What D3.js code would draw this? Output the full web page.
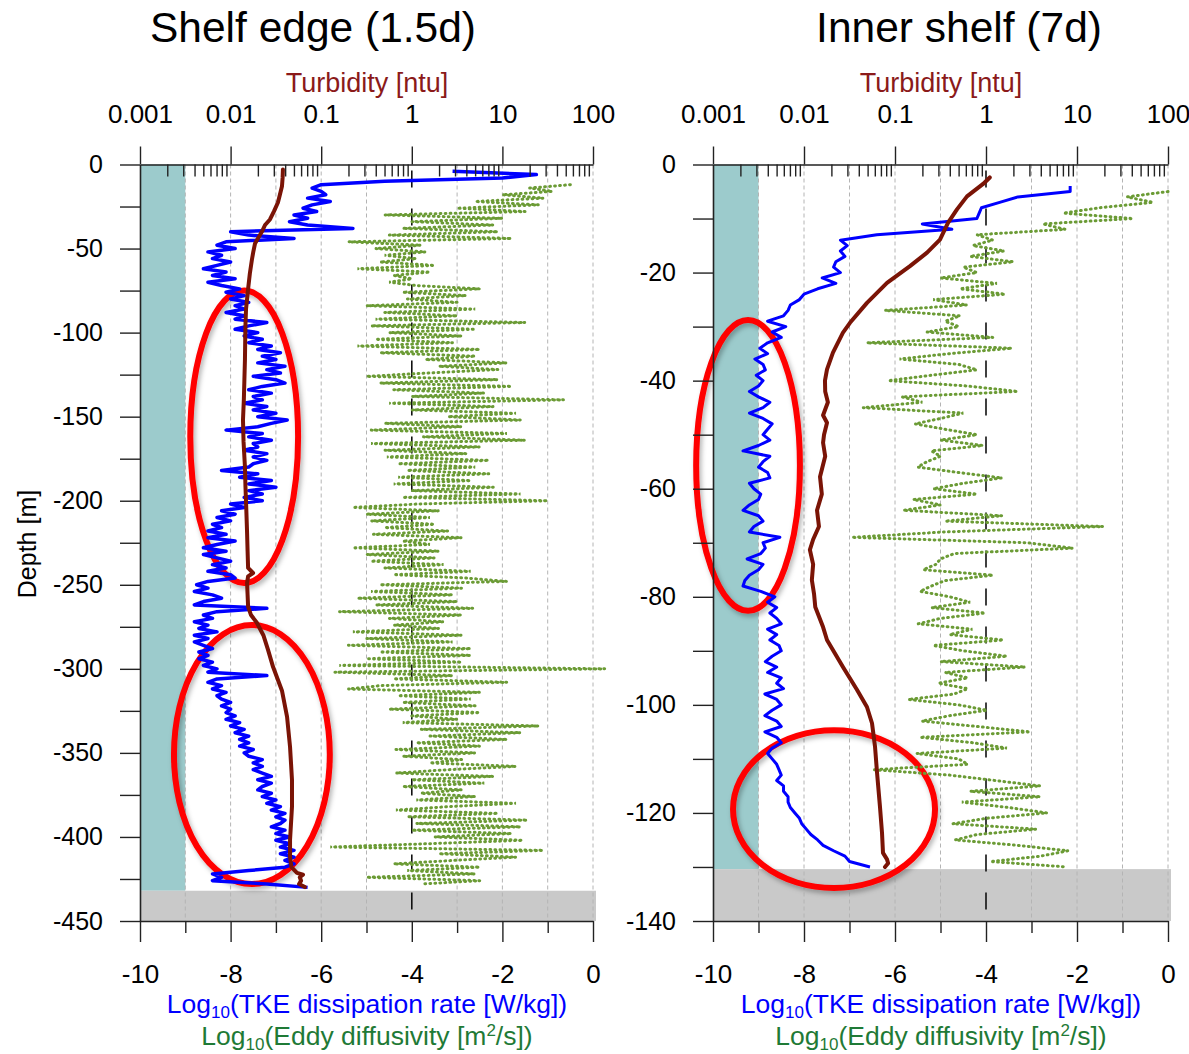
<!DOCTYPE html>
<html>
<head>
<meta charset="utf-8">
<script src="https://cdn.jsdelivr.net/npm/d3@7"></script>
<style>
  body { margin: 0; background: #fff; }
  svg { display: block; }
  text { font-family: "Liberation Sans", Arial, Helvetica, sans-serif; }
</style>
</head>
<body>
<svg id="chart" width="1189" height="1054"></svg>
<script>
// ---------------------------------------------------------------------------
// Profile data. Depths in metres (positive down), TKE dissipation and eddy
// diffusivity as log10 values, turbidity in ntu.
// ---------------------------------------------------------------------------

// Shelf edge (1.5 d) — log10 TKE dissipation rate, 2 m bins starting at 4 m
const shelfEdgeTkeTop = 4, shelfEdgeTkeStep = 2;
const shelfEdgeTke = [
  -3.1,-1.25,-2.0,-4.6,-6.0,-6.2,-6.0,-5.9,-6.3,-5.8,
  -6.2,-6.4,-6.1,-6.6,-6.3,-6.7,-6.3,-5.3,-8.0,-7.6,
  -6.6,-8.1,-8.3,-7.9,-8.5,-8.2,-8.4,-8.0,-8.3,-8.6,
  -8.1,-8.4,-7.9,-8.5,-8.2,-7.8,-8.1,-7.7,-8.0,-7.6,
  -7.9,-7.7,-8.1,-7.7,-7.9,-7.2,-7.6,-7.9,-7.4,-7.7,
  -7.3,-7.6,-7.1,-7.4,-6.9,-7.3,-7.0,-7.4,-6.8,-7.2,
  -6.9,-7.5,-7.0,-6.8,-7.3,-7.6,-7.1,-7.5,-7.3,-7.7,
  -7.2,-7.5,-7.0,-7.4,-6.75,-7.1,-7.4,-8.1,-7.3,-7.6,
  -7.1,-7.5,-7.4,-7.7,-7.2,-7.5,-7.2,-7.5,-7.6,-8.2,
  -7.4,-7.8,-7.1,-7.6,-7.0,-7.6,-7.3,-7.7,-7.3,-8.0,
  -7.7,-8.2,-7.9,-8.3,-8.0,-8.4,-8.2,-8.5,-8.1,-8.5,
  -7.9,-8.3,-8.6,-8.1,-8.6,-8.3,-8.0,-8.4,-8.1,-8.5,
  -8.0,-7.9,-8.5,-8.75,-8.5,-8.8,-8.4,-8.2,-8.6,-8.8,
  -7.2,-8.3,-8.6,-8.4,-8.8,-8.5,-8.7,-8.3,-8.8,-8.5,
  -8.8,-8.6,-8.4,-8.7,-8.5,-8.7,-8.4,-8.6,-8.3,-8.5,
  -7.2,-8.3,-8.5,-8.2,-8.4,-8.1,-8.3,-8.2,-8.0,-8.2,
  -8.0,-8.1,-7.9,-8.1,-7.8,-8.0,-7.7,-7.9,-7.6,-7.8,
  -7.6,-7.8,-7.5,-7.7,-7.6,-7.3,-7.5,-7.3,-7.5,-7.3,
  -7.1,-7.4,-7.1,-7.3,-7.4,-7.1,-7.3,-7.0,-7.2,-6.9,
  -7.1,-6.8,-7.0,-6.8,-6.9,-7.1,-6.8,-7.0,-6.7,-7.0,
  -6.7,-6.9,-6.6,-6.9,-6.6,-6.8,-6.6,-6.8,-7.6,-8.4,
  -8.2,-8.4,-7.2,-6.3
];

// Shelf edge — log10 eddy diffusivity, 2 m bins starting at 12 m
const shelfEdgeKzTop = 12, shelfEdgeKzStep = 2;
const shelfEdgeKz = [
  -0.5,-1.4,-0.9,-2.0,-1.1,-2.6,-1.2,-3.0,-1.5,-4.6,
  -2.0,-4.0,-2.2,-4.2,-2.1,-4.5,-1.8,-5.4,-3.8,-4.8,
  -3.7,-4.6,-3.9,-4.7,-3.5,-5.2,-3.6,-4.4,-4.0,-4.5,
  -3.9,-2.5,-4.2,-2.8,-4.1,-3.0,-5.0,-2.6,-4.6,-3.0,
  -4.8,-1.5,-4.9,-2.6,-4.5,-2.9,-4.8,-3.1,-5.2,-2.5,
  -4.7,-2.6,-3.7,-1.9,-3.4,-2.1,-3.6,-5.0,-2.1,-4.7,
  -1.8,-4.4,-2.4,-4.0,-0.65,-4.5,-2.2,-4.0,-1.7,-3.2,
  -1.6,-4.6,-2.9,-4.9,-1.9,-3.75,-1.5,-4.9,-2.5,-4.6,
  -2.8,-4.55,-2.3,-4.3,-2.6,-4.1,-2.3,-4.3,-2.7,-4.4,
  -2.2,-4.0,-1.6,-4.2,-1.0,-3.9,-5.3,-3.4,-5.0,-3.6,
  -4.9,-3.5,-4.6,-3.2,-4.85,-2.9,-4.2,-3.6,-5.3,-3.4,
  -5.0,-3.5,-4.9,-3.3,-4.6,-2.7,-4.4,-2.8,-1.9,-4.7,
  -2.9,-4.9,-3.1,-5.2,-3.0,-4.8,-2.65,-5.6,-2.9,-4.5,
  -3.3,-4.4,-3.4,-5.3,-2.9,-5.0,-3.1,-5.4,-2.7,-4.7,
  -2.7,-5.0,-2.9,-5.6,0.26,-5.7,-3.1,-4.4,-1.9,-4.7,
  -5.4,-2.5,-4.3,-2.7,-4.2,-2.6,-4.5,-2.5,-4.0,-3.0,
  -4.2,-1.2,-3.8,-1.6,-3.6,-1.9,-3.9,-2.5,-4.35,-2.6,
  -4.2,-2.9,-3.6,-1.7,-3.2,-4.35,-2.2,-4.0,-2.4,-4.2,
  -2.9,-3.8,-2.6,-3.9,-1.7,-3.2,-4.35,-2.1,-4.1,-1.45,
  -3.9,-1.6,-4.0,-1.8,-3.5,-1.55,-3.6,-5.8,-1.1,-3.4,
  -1.7,-3.1,-4.4,-2.5,-4.1,-2.6,-5.0,-2.5,-3.8
];

// Shelf edge — turbidity profile
const shelfEdgeTurbDepth = [
  3,8,13,18,22.6,28,32.7,36,39.9,44,
  47,52,56.5,65,74,80,86,95,104,116,
  128,140,152,165,180,192,205,219,230,240,
  243,245,249,256,263,268,272.6,280,288.7,298.8,
  313,328.6,346.4,366,382,401.8,411.9,418,421.4,422.5,
  424,426,428,429.8
];
const shelfEdgeTurbidity = [
  0.0378,0.0375,0.0369,0.035,0.0333,0.030,0.0272,0.024,0.0222,0.020,
  0.0186,0.0178,0.0172,0.0163,0.0156,0.0152,0.0148,0.0146,0.0145,0.0144,
  0.0142,0.014,0.0137,0.0139,0.0144,0.0146,0.0149,0.0152,0.0154,0.0156,
  0.0177,0.0156,0.0152,0.0154,0.0156,0.0168,0.0195,0.023,0.0259,0.0294,
  0.0369,0.042,0.0453,0.0476,0.0476,0.0453,0.0453,0.047,0.054,0.063,
  0.058,0.06,0.057,0.066
];

// Inner shelf (7 d) — log10 TKE dissipation rate, 1 m bins starting at 4 m
const innerShelfTkeTop = 4, innerShelfTkeStep = 1;
const innerShelfTke = [
  -2.15,-2.15,-3.3,-3.7,-4.1,-4.15,-4.2,-5.4,-4.75,-6.4,
  -7.2,-7.05,-7.2,-7.1,-7.3,-7.35,-7.2,-7.6,-7.3,-7.7,
  -8.0,-8.1,-8.3,-8.35,-8.45,-8.8,-8.4,-8.7,-8.5,-8.8,
  -8.97,-8.8,-9.08,-8.9,-8.85,-9.05,-8.9,-9.0,-9.2,-9.0,
  -8.75,-8.9,-9.2,-8.9,-8.7,-8.8,-8.9,-8.75,-9.0,-9.34,
  -8.75,-8.9,-9.0,-8.8,-8.75,-9.2,-9.1,-8.95,-9.0,-9.2,
  -9.34,-9.0,-8.9,-9.1,-9.2,-8.53,-8.9,-8.85,-8.95,-9.25,
  -8.9,-9.0,-9.2,-9.3,-9.34,-8.95,-8.64,-8.8,-8.6,-8.75,
  -8.6,-8.5,-8.8,-8.6,-8.75,-8.55,-8.5,-8.7,-8.85,-8.6,
  -8.8,-8.5,-8.6,-8.45,-8.86,-8.6,-8.5,-8.7,-8.86,-8.6,
  -8.5,-8.86,-8.6,-8.5,-8.7,-8.8,-8.7,-8.6,-8.55,-8.5,
  -8.6,-8.45,-8.45,-8.35,-8.35,-8.3,-8.2,-8.1,-8.05,-7.95,
  -7.85,-7.7,-7.58,-7.35,-7.1,-7.0,-6.55
];

// Inner shelf — log10 eddy diffusivity, 1 m bins starting at 5 m
const innerShelfKzTop = 5, innerShelfKzStep = 1;
const innerShelfKz = [
  0.0,-0.9,-0.33,-1.5,-2.3,-0.77,-2.75,-2.26,-4.2,-3.85,
  -4.29,-3.6,-4.35,-3.4,-4.5,-4.2,-5.0,-3.76,-4.57,-3.58,
  -5.16,-4.42,-6.22,-4.57,-4.9,-4.6,-5.3,-3.85,-6.62,-3.43,
  -4.8,-5.9,-4.6,-4.2,-5.2,-6.15,-4.4,-3.3,-5.85,-5.4,
  -6.7,-4.5,-5.0,-5.56,-4.9,-4.2,-5.0,-4.07,-5.2,-5.0,
  -5.3,-5.5,-4.6,-3.65,-4.5,-5.16,-4.2,-5.6,-5.0,-5.82,
  -3.65,-4.9,-1.43,-4.9,-6.95,-3.1,-2.09,-4.7,-5.0,-5.1,
  -5.38,-3.85,-4.9,-5.2,-5.45,-4.8,-4.35,-5.2,-4.02,-5.0,
  -5.49,-4.3,-4.8,-3.62,-5.16,-4.5,-3.54,-5.0,-3.14,-4.9,
  -4.4,-5.05,-4.4,-4.7,-5.71,-4.6,-3.98,-4.8,-5.41,-4.2,
  -3.03,-5.45,-4.3,-3.54,-5.52,-4.6,-4.4,-6.48,-4.8,-3.8,
  -2.81,-4.35,-2.81,-4.53,-3.5,-2.66,-4.0,-4.73,-2.9,-4.2,
  -4.68,-3.3,-2.2,-2.8,-3.9,-2.22
];

// Inner shelf — turbidity profile
const innerShelfTurbDepth = [
  2.4,3.6,5.9,8.3,10.8,13.9,16.3,18.8,21.9,25.6,
  29.3,31.1,34.8,37.9,40,42,44,46.4,47.8,50,
  51.5,54,57.8,61,64,67,69.4,71.3,74,76.9,
  79.5,81.9,85.6,88,91.1,93,97.2,100.4,103.4,107.7,
  112.6,118.9,123.7,127.4,128.6,129.3,130
];
const innerShelfTurbidity = [
  1.1,0.93,0.618,0.48,0.382,0.312,0.225,0.146,0.0817,0.0492,
  0.032,0.0268,0.0208,0.0179,0.017,0.0171,0.0183,0.0162,0.0179,0.0166,
  0.0162,0.0171,0.015,0.0157,0.0139,0.0146,0.0126,0.0116,0.0126,0.0122,
  0.0129,0.0133,0.0162,0.0179,0.023,0.0268,0.0382,0.0492,0.0559,0.0603,
  0.0635,0.0684,0.072,0.0738,0.0817,0.084,0.0776
];

// Seafloor depth and depth-axis extent of each station
const shelfEdgeSeafloor = 432, shelfEdgeMaxDepth = 450;
const innerShelfSeafloor = 130.4, innerShelfMaxDepth = 140;

// Highlighted regions: centre (log10 unit, depth m) and half-widths
const shelfEdgeHighlights = [[-7.70, 162, 1.19, 87], [-7.53, 351, 1.72, 77]];
const innerShelfHighlights = [[-9.23, 55.7, 1.14, 26.9], [-7.34, 119.3, 2.22, 14.6]];

// Axis tick labels
const turbidityTicks = [0.001, 0.01, 0.1, 1, 10, 100];
const turbidityTickLabels = ["0.001", "0.01", "0.1", "1", "10", "100"];
const logTicks = [-10, -8, -6, -4, -2, 0];
const logTickLabels = ["-10", "-8", "-6", "-4", "-2", "0"];

// ---------------------------------------------------------------------------
const svg = d3.select("#chart");
const FONT = '"Liberation Sans", Arial, Helvetica, sans-serif';
const BLUE = "#0000ff", GREEN = "#6b9b35", TURB = "#7a1406";
const TURB_LABEL = "#8b1a1a", GREEN_LABEL = "#1f7a36";

const defs = svg.append("defs");
const shadow = defs.append("filter").attr("id", "ringShadow")
  .attr("x", "-20%").attr("y", "-20%").attr("width", "140%").attr("height", "140%");
shadow.append("feDropShadow").attr("dx", 2).attr("dy", 3)
  .attr("stdDeviation", 2.5).attr("flood-color", "#000").attr("flood-opacity", 0.3);

const TOP = 164.5, BOTTOM = 921;

function binned(top, step, values) {
  return values.map((v, i) => ({ depth: top + i * step, v }));
}

function drawPanel(p) {
  const g = svg.append("g");
  const x = d3.scaleLinear().domain([-10, 0]).range([p.left, p.right]);
  const xT = d3.scaleLog().domain([0.001, 100]).range([p.left, p.right]);
  const y = d3.scaleLinear().domain([0, -p.maxDepth]).range([TOP, BOTTOM]);

  // strip below the instrument noise floor, and the seabed
  g.append("rect")
    .attr("x", x(-10)).attr("y", y(0))
    .attr("width", x(-9) - x(-10)).attr("height", y(-p.seafloor) - y(0))
    .attr("fill", "#9ccbcc");
  g.append("rect")
    .attr("x", x(-10)).attr("y", y(-p.seafloor))
    .attr("width", x(0) - x(-10) + 3).attr("height", y(-p.maxDepth) - y(-p.seafloor))
    .attr("fill", "#c9c9c9");

  // vertical grid
  d3.range(-9, 1).forEach(u => {
    const ref = u === -4;
    g.append("line")
      .attr("x1", x(u)).attr("x2", x(u)).attr("y1", TOP).attr("y2", BOTTOM)
      .attr("stroke", ref ? "#111" : "#b4b4b4")
      .attr("stroke-width", ref ? 1.6 : 1)
      .attr("stroke-dasharray", ref ? "17,21" : "4,3")
      .attr("stroke-dashoffset", ref ? 32 : 0);
  });

  // highlight rings
  g.selectAll(".ring").data(p.highlights).enter().append("ellipse")
    .attr("cx", d => x(d[0]))
    .attr("cy", d => y(-d[1]))
    .attr("rx", d => x(d[0] + d[2]) - x(d[0]))
    .attr("ry", d => y(-(d[1] + d[3])) - y(-d[1]))
    .attr("fill", "none").attr("stroke", "#ff0000").attr("stroke-width", 6)
    .attr("filter", "url(#ringShadow)");

  // eddy diffusivity (dotted)
  const kz = binned(p.kzTop, p.kzStep, p.kz);
  g.append("path").datum(kz)
    .attr("d", d3.line().x(d => x(d.v)).y(d => y(-d.depth)))
    .attr("fill", "none").attr("stroke", GREEN).attr("stroke-width", 3)
    .attr("stroke-linecap", "round").attr("stroke-dasharray", "0.8,4.2");

  // TKE dissipation
  const tke = binned(p.tkeTop, p.tkeStep, p.tke);
  g.append("path").datum(tke)
    .attr("d", d3.line().x(d => x(d.v)).y(d => y(-d.depth)))
    .attr("fill", "none").attr("stroke", BLUE).attr("stroke-width", p.tkeWidth)
    .attr("stroke-linejoin", "round");

  // turbidity
  const turb = p.turbDepth.map((d, i) => ({ depth: d, v: p.turb[i] }));
  g.append("path").datum(turb)
    .attr("d", d3.line().x(d => xT(d.v)).y(d => y(-d.depth)))
    .attr("fill", "none").attr("stroke", TURB).attr("stroke-width", 4)
    .attr("stroke-linejoin", "round").attr("stroke-linecap", "round");

  // depth axis
  const yTicks = d3.range(0, -p.maxDepth - 0.001, -p.depthMinor);
  const yAxis = g.append("g").attr("transform", `translate(${p.left},0)`)
    .call(d3.axisLeft(y).tickValues(yTicks).tickSize(20).tickSizeOuter(0).tickPadding(17)
      .tickFormat(d => (Math.abs(d % p.depthMajor) < 1e-9 ? String(d) : "")));
  styleAxis(yAxis, 25);

  // turbidity axis (top): decades labelled, minor ticks drawn inward
  const topAxis = g.append("g").attr("transform", `translate(0,${TOP})`)
    .call(d3.axisTop(xT).tickValues(turbidityTicks).tickSize(18).tickSizeOuter(0).tickPadding(24)
      .tickFormat((d, i) => turbidityTickLabels[i]));
  styleAxis(topAxis, 26);
  const minor = [];
  turbidityTicks.slice(0, -1).forEach(dec => { for (let k = 2; k <= 9; k++) minor.push(dec * k); });
  const topMinor = g.append("g").attr("transform", `translate(0,${TOP})`)
    .call(d3.axisTop(xT).tickValues(minor).tickSize(-12).tickSizeOuter(0).tickFormat(""));
  styleAxis(topMinor, 26);
  topMinor.select(".domain").remove();

  // log10 axis (bottom)
  const botAxis = g.append("g").attr("transform", `translate(0,${BOTTOM})`)
    .call(d3.axisBottom(x).tickValues(logTicks).tickSize(21).tickSizeOuter(0).tickPadding(23)
      .tickFormat((d, i) => logTickLabels[i]));
  styleAxis(botAxis, 26);
  const botMinor = g.append("g").attr("transform", `translate(0,${BOTTOM})`)
    .call(d3.axisBottom(x).tickValues(d3.range(-9, 0, 2)).tickSize(12).tickSizeOuter(0).tickFormat(""));
  styleAxis(botMinor, 26);
  botMinor.select(".domain").remove();

  // titles
  g.append("text").attr("x", p.titleX).attr("y", 42).attr("text-anchor", "middle")
    .attr("font-size", 42.5).attr("fill", "#000").text(p.title);
  g.append("text").attr("x", p.labelX).attr("y", 92).attr("text-anchor", "middle")
    .attr("font-size", 27).attr("fill", TURB_LABEL).text("Turbidity [ntu]");

  const t1 = g.append("text").attr("x", p.labelX).attr("y", 1013).attr("text-anchor", "middle")
    .attr("font-size", 26.5).attr("fill", BLUE);
  t1.append("tspan").text("Log");
  t1.append("tspan").attr("font-size", 17).attr("dy", 5).text("10");
  t1.append("tspan").attr("dy", -5).text("(TKE dissipation rate [W/kg])");

  const t2 = g.append("text").attr("x", p.labelX).attr("y", 1045).attr("text-anchor", "middle")
    .attr("font-size", 26.5).attr("fill", GREEN_LABEL);
  t2.append("tspan").text("Log");
  t2.append("tspan").attr("font-size", 17).attr("dy", 5).text("10");
  t2.append("tspan").attr("dy", -5).text("(Eddy diffusivity [m");
  t2.append("tspan").attr("font-size", 17).attr("dy", -9).text("2");
  t2.append("tspan").attr("dy", 9).text("/s])");
}

function styleAxis(a, size) {
  a.attr("font-family", FONT).attr("font-size", size);
  a.selectAll("text").attr("fill", "#000");
  a.selectAll("line").attr("stroke", "#222").attr("stroke-width", 1.4);
  a.select(".domain").attr("stroke", "#222").attr("stroke-width", 1.6);
}

drawPanel({
  title: "Shelf edge (1.5d)", titleX: 313, labelX: 367,
  left: 140, right: 593, maxDepth: shelfEdgeMaxDepth, seafloor: shelfEdgeSeafloor,
  depthMajor: 50, depthMinor: 25,
  tkeTop: shelfEdgeTkeTop, tkeStep: shelfEdgeTkeStep, tke: shelfEdgeTke, tkeWidth: 3.5,
  kzTop: shelfEdgeKzTop, kzStep: shelfEdgeKzStep, kz: shelfEdgeKz,
  turbDepth: shelfEdgeTurbDepth, turb: shelfEdgeTurbidity,
  highlights: shelfEdgeHighlights
});

drawPanel({
  title: "Inner shelf (7d)", titleX: 959, labelX: 941,
  left: 713, right: 1168, maxDepth: innerShelfMaxDepth, seafloor: innerShelfSeafloor,
  depthMajor: 20, depthMinor: 10,
  tkeTop: innerShelfTkeTop, tkeStep: innerShelfTkeStep, tke: innerShelfTke, tkeWidth: 3,
  kzTop: innerShelfKzTop, kzStep: innerShelfKzStep, kz: innerShelfKz,
  turbDepth: innerShelfTurbDepth, turb: innerShelfTurbidity,
  highlights: innerShelfHighlights
});

// shared depth label
svg.append("text")
  .attr("transform", "translate(36,544) rotate(-90)")
  .attr("text-anchor", "middle").attr("font-size", 25).attr("fill", "#000")
  .text("Depth [m]");
</script>
</body>
</html>
